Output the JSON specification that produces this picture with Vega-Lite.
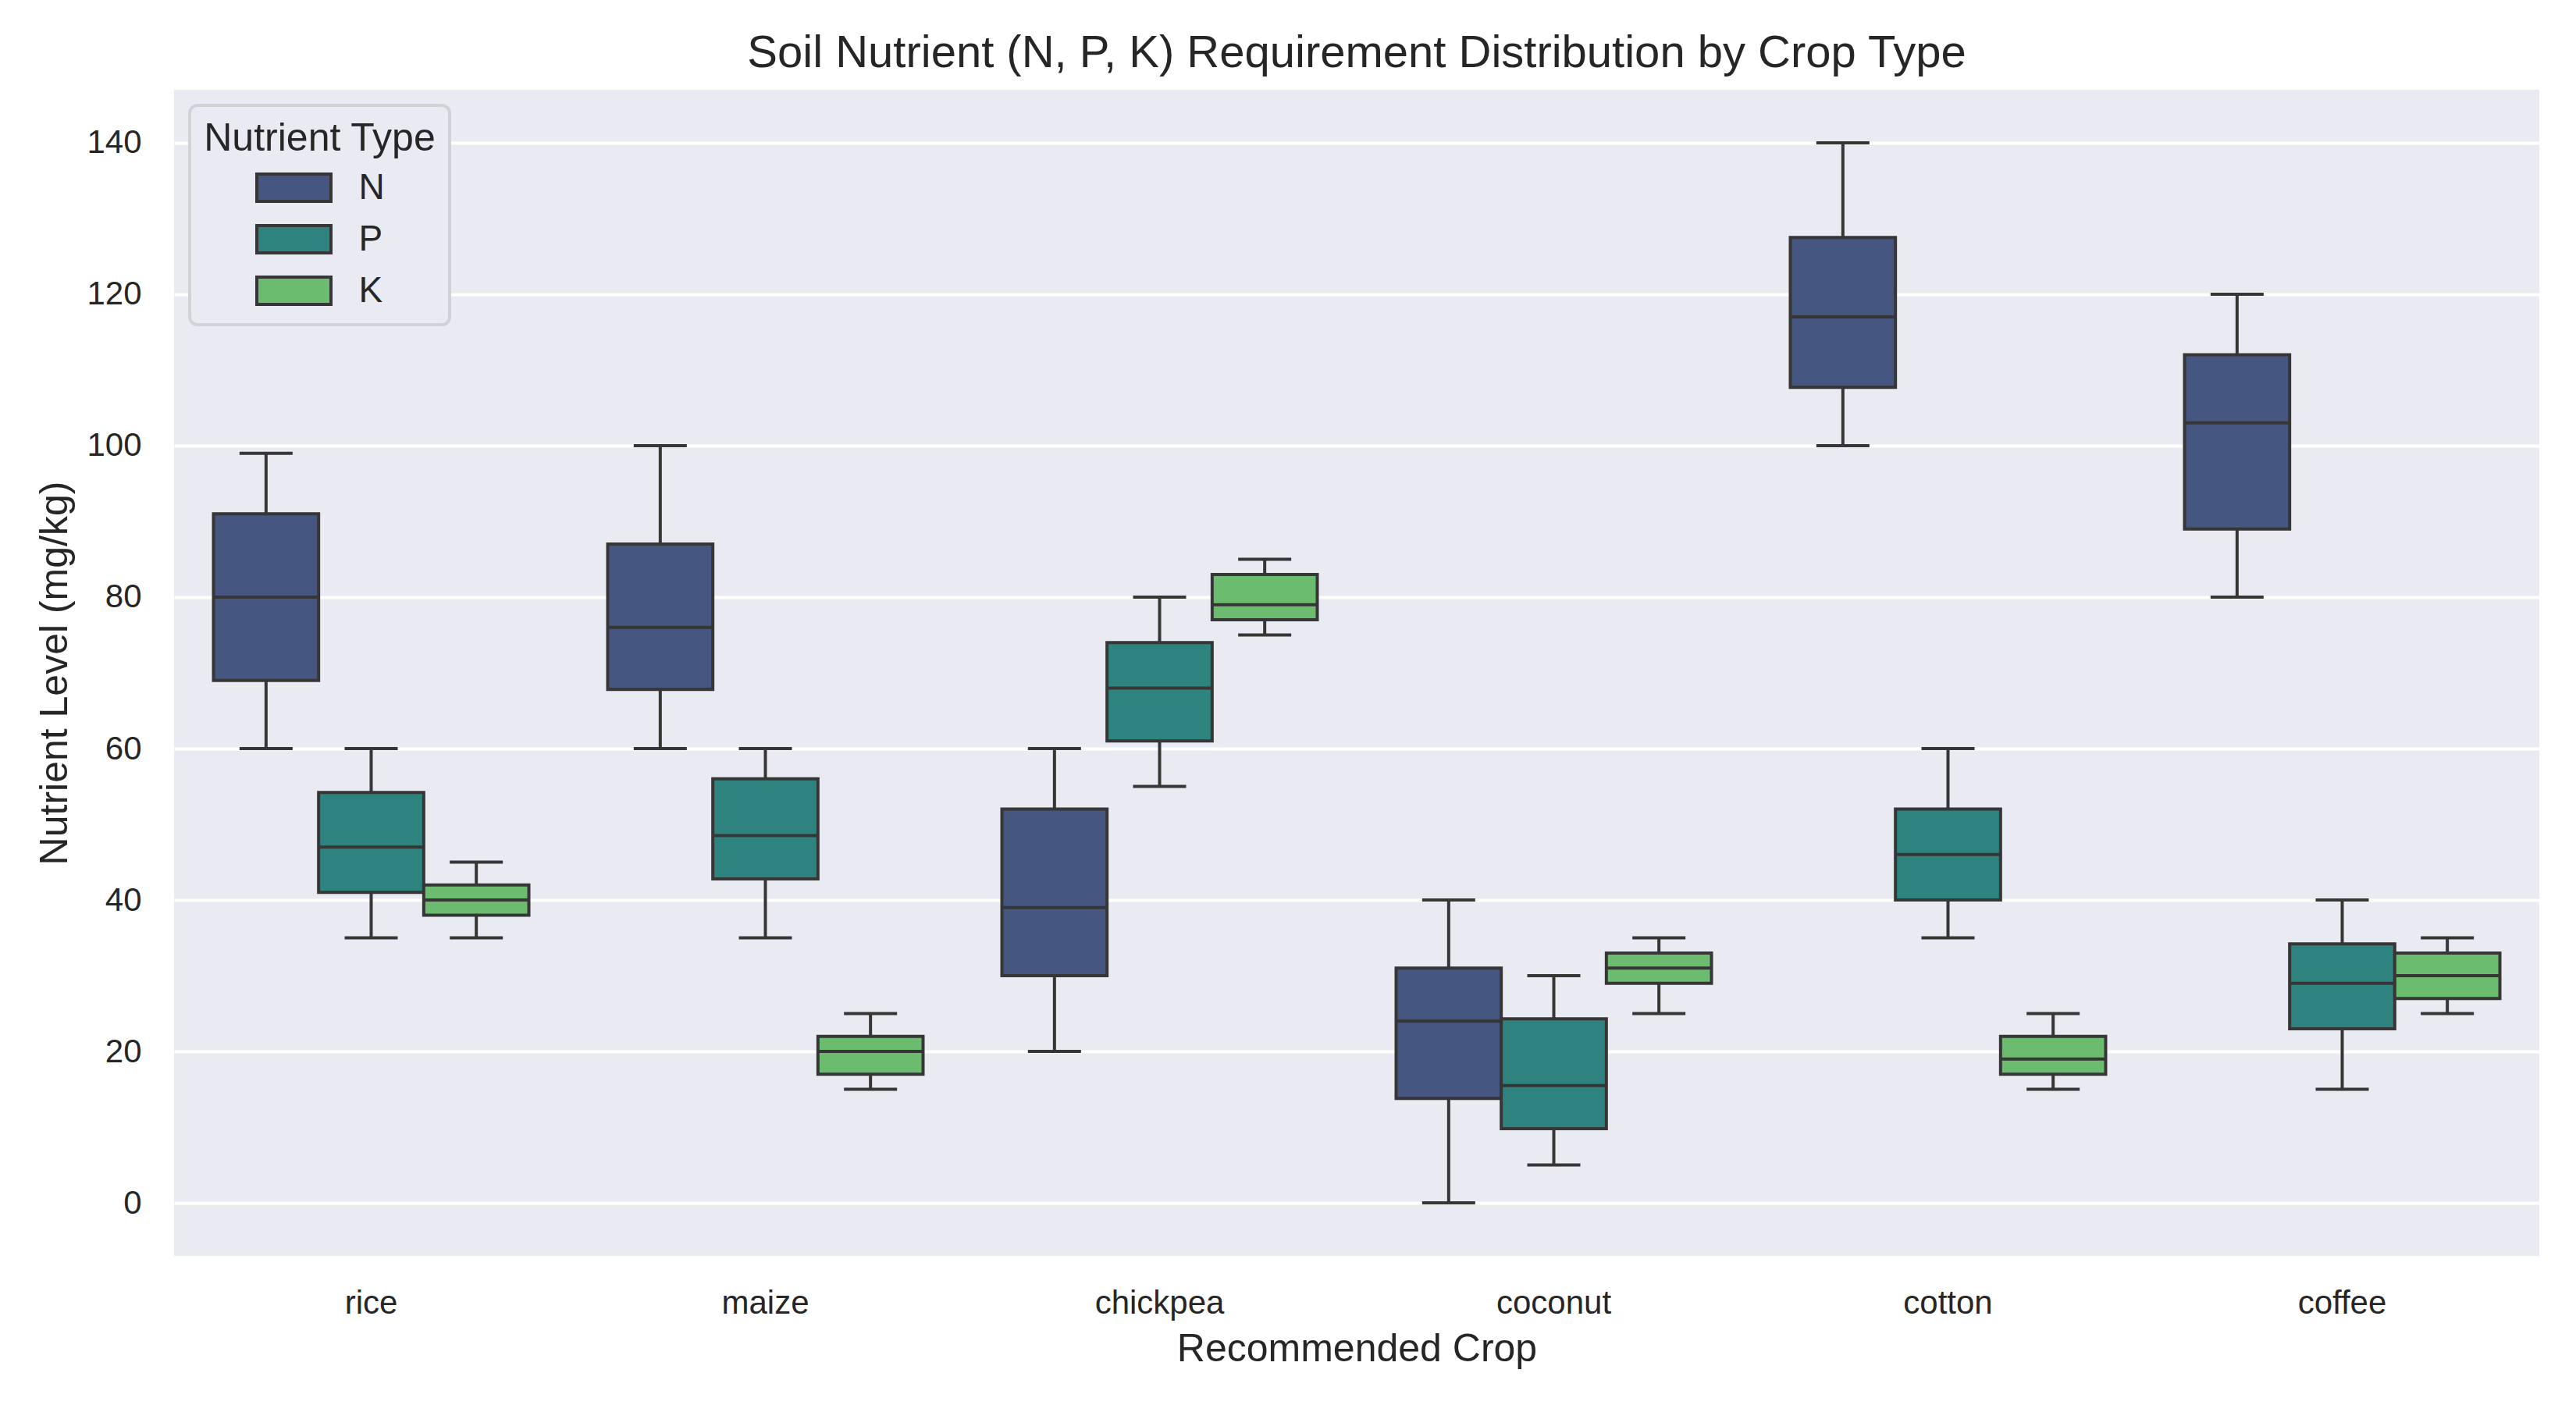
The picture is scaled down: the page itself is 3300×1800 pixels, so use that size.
{
  "$schema": "https://vega.github.io/schema/vega-lite/v6.json",
  "autosize": "none",
  "width": 3030,
  "height": 1494,
  "padding": {"left": 223, "top": 115, "right": 47, "bottom": 191},
  "background": "white",
  "title": {
    "text": "Soil Nutrient (N, P, K) Requirement Distribution by Crop Type",
    "fontSize": 58,
    "font": "Liberation Sans",
    "fontWeight": "normal",
    "color": "#262626",
    "offset": 25,
    "dy": 54,
    "baseline": "alphabetic",
    "anchor": "middle",
    "frame": "group"
  },
  "data": {
    "values": [
      {"crop": "rice", "nutrient": "N", "lo": 60, "q1": 69, "median": 80, "q3": 91, "hi": 99},
      {"crop": "rice", "nutrient": "P", "lo": 35, "q1": 41, "median": 47, "q3": 54.2, "hi": 60},
      {"crop": "rice", "nutrient": "K", "lo": 35, "q1": 38, "median": 40, "q3": 42, "hi": 45},
      {"crop": "maize", "nutrient": "N", "lo": 60, "q1": 67.8, "median": 76, "q3": 87, "hi": 100},
      {"crop": "maize", "nutrient": "P", "lo": 35, "q1": 42.8, "median": 48.5, "q3": 56, "hi": 60},
      {"crop": "maize", "nutrient": "K", "lo": 15, "q1": 17, "median": 20, "q3": 22, "hi": 25},
      {"crop": "chickpea", "nutrient": "N", "lo": 20, "q1": 30, "median": 39, "q3": 52, "hi": 60},
      {"crop": "chickpea", "nutrient": "P", "lo": 55, "q1": 61, "median": 68, "q3": 74, "hi": 80},
      {"crop": "chickpea", "nutrient": "K", "lo": 75, "q1": 77, "median": 79, "q3": 83, "hi": 85},
      {"crop": "coconut", "nutrient": "N", "lo": 0, "q1": 13.8, "median": 24, "q3": 31, "hi": 40},
      {"crop": "coconut", "nutrient": "P", "lo": 5, "q1": 9.8, "median": 15.5, "q3": 24.3, "hi": 30},
      {"crop": "coconut", "nutrient": "K", "lo": 25, "q1": 29, "median": 31, "q3": 33, "hi": 35},
      {"crop": "cotton", "nutrient": "N", "lo": 100, "q1": 107.7, "median": 117, "q3": 127.5, "hi": 140},
      {"crop": "cotton", "nutrient": "P", "lo": 35, "q1": 40, "median": 46, "q3": 52, "hi": 60},
      {"crop": "cotton", "nutrient": "K", "lo": 15, "q1": 17, "median": 19, "q3": 22, "hi": 25},
      {"crop": "coffee", "nutrient": "N", "lo": 80, "q1": 89, "median": 103, "q3": 112, "hi": 120},
      {"crop": "coffee", "nutrient": "P", "lo": 15, "q1": 23, "median": 29, "q3": 34.2, "hi": 40},
      {"crop": "coffee", "nutrient": "K", "lo": 25, "q1": 27, "median": 30, "q3": 33, "hi": 35}
    ]
  },
  "layer": [
    {
      "mark": {"type": "rule", "color": "#363636", "strokeWidth": 4},
      "encoding": {
        "x": {
          "field": "crop", "type": "nominal",
          "sort": ["rice", "maize", "chickpea", "coconut", "cotton", "coffee"],
          "scale": {"paddingInner": 0, "paddingOuter": 0},
          "title": "Recommended Crop",
          "axis": {
            "labelFontSize": 42, "labelAngle": 0, "labelBaseline": "alphabetic",
            "labelPadding": 73, "titleFontSize": 50, "titleX": 1515, "titleY": 134,
            "titleBaseline": "alphabetic", "titleAlign": "center", "grid": false
          }
        },
        "xOffset": {
          "field": "nutrient", "type": "nominal", "sort": ["N", "P", "K"],
          "scale": {"paddingInner": 0, "paddingOuter": 0.375}
        },
        "y": {
          "field": "lo", "type": "quantitative",
          "scale": {"domain": [-7, 147], "nice": false, "zero": false},
          "title": "Nutrient Level (mg/kg)",
          "axis": {
            "values": [0, 20, 40, 60, 80, 100, 120, 140],
            "labelFontSize": 42, "labelPadding": 42, "labelAlign": "right", "labelBaseline": "middle",
            "titleFontSize": 50, "titleX": -138, "titleY": 747, "titleAngle": 270,
            "titleBaseline": "alphabetic", "titleAlign": "center", "grid": true
          }
        },
        "y2": {"field": "hi"}
      }
    },
    {
      "mark": {"type": "bar", "stroke": "#363636", "strokeWidth": 4, "opacity": 1},
      "encoding": {
        "x": {"field": "crop", "type": "nominal", "sort": ["rice", "maize", "chickpea", "coconut", "cotton", "coffee"], "title": "Recommended Crop"},
        "xOffset": {"field": "nutrient", "type": "nominal", "sort": ["N", "P", "K"]},
        "y": {"field": "q1", "type": "quantitative", "title": "Nutrient Level (mg/kg)"},
        "y2": {"field": "q3"},
        "fill": {
          "field": "nutrient", "type": "nominal", "sort": ["N", "P", "K"],
          "scale": {"domain": ["N", "P", "K"], "range": ["#455681", "#2e837f", "#6bbc6e"]},
          "legend": {
            "title": "Nutrient Type",
            "orient": "top-left",
            "offset": 20,
            "padding": 17.5,
            "fillColor": "#EAEAF2",
            "strokeColor": "#d2d2d5",
            "cornerRadius": 10,
            "titleFontSize": 50,
            "titleFontWeight": "normal",
            "titleColor": "#262626",
            "titleFont": "Liberation Sans",
            "titleAnchor": "middle",
            "titleLimit": 1000,
            "titlePadding": 15,
            "labelFontSize": 46,
            "labelColor": "#262626",
            "labelFont": "Liberation Sans",
            "labelOffset": 60,
            "labelLimit": 500,
            "symbolType": "M-2.5,-0.92H2.5V0.92H-2.5Z",
            "symbolSize": 1444,
            "symbolStrokeColor": "#363636",
            "symbolStrokeWidth": 4,
            "symbolOffset": 28,
            "symbolOpacity": 1,
            "rowPadding": 14
          }
        }
      }
    },
    {
      "mark": {"type": "tick", "orient": "horizontal", "color": "#363636", "size": 134, "thickness": 4, "opacity": 1},
      "encoding": {
        "x": {"field": "crop", "type": "nominal", "sort": ["rice", "maize", "chickpea", "coconut", "cotton", "coffee"], "title": "Recommended Crop"},
        "xOffset": {"field": "nutrient", "type": "nominal", "sort": ["N", "P", "K"]},
        "y": {"field": "median", "type": "quantitative", "title": "Nutrient Level (mg/kg)"}
      }
    },
    {
      "mark": {"type": "tick", "orient": "horizontal", "color": "#363636", "size": 68, "thickness": 4, "opacity": 1},
      "encoding": {
        "x": {"field": "crop", "type": "nominal", "sort": ["rice", "maize", "chickpea", "coconut", "cotton", "coffee"], "title": "Recommended Crop"},
        "xOffset": {"field": "nutrient", "type": "nominal", "sort": ["N", "P", "K"]},
        "y": {"field": "lo", "type": "quantitative", "title": "Nutrient Level (mg/kg)"}
      }
    },
    {
      "mark": {"type": "tick", "orient": "horizontal", "color": "#363636", "size": 68, "thickness": 4, "opacity": 1},
      "encoding": {
        "x": {"field": "crop", "type": "nominal", "sort": ["rice", "maize", "chickpea", "coconut", "cotton", "coffee"], "title": "Recommended Crop"},
        "xOffset": {"field": "nutrient", "type": "nominal", "sort": ["N", "P", "K"]},
        "y": {"field": "hi", "type": "quantitative", "title": "Nutrient Level (mg/kg)"}
      }
    }
  ],
  "config": {
    "font": "Liberation Sans",
    "view": {"fill": "#EAEAF2", "stroke": null},
    "legend": {"strokeWidth": 4},
    "axis": {
      "domain": false,
      "ticks": false,
      "tickSize": 0,
      "labelFont": "Liberation Sans",
      "titleFont": "Liberation Sans",
      "labelColor": "#262626",
      "titleColor": "#262626",
      "titleFontWeight": "normal",
      "gridColor": "#ffffff",
      "gridWidth": 4,
      "gridOpacity": 1
    }
  }
}
